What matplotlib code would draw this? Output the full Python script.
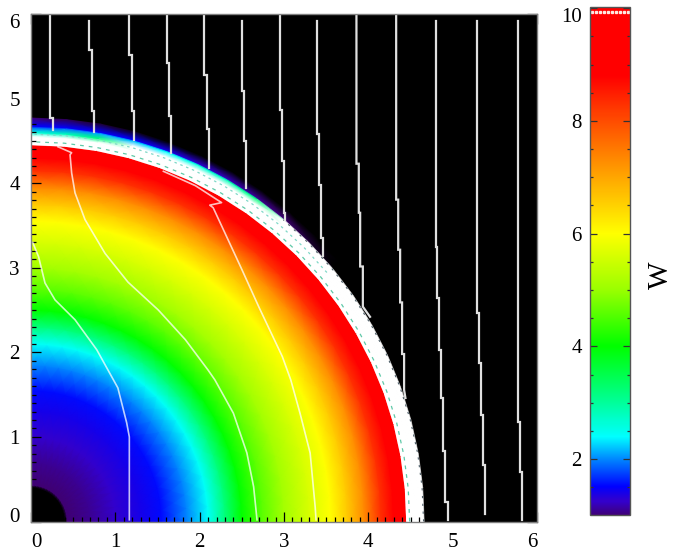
import numpy as np
import matplotlib
matplotlib.use('Agg')
import matplotlib.pyplot as plt
from matplotlib.colors import LinearSegmentedColormap, Normalize

# --- field values ---
W_MIN, W_MAX = 0.8, 10.0
ANGLES_DEG = list(range(0, 95, 5))

# radial profile inside the shell (same at every angle)
RADII = [0, 0.40, 0.43, 0.7, 1.0, 1.3, 1.55, 1.85, 2.1, 2.3, 2.5, 2.75, 3.0, 3.3, 3.55,
         3.75, 3.95, 4.15, 4.3, 4.45, 4.455, 4.55]
W_PROFILE = [0.8, 0.8, 1.0, 1.1, 1.25, 1.4, 1.55, 2.0, 2.45, 3.2, 4.0, 4.6, 5.1, 5.6, 6.0,
             6.6, 7.3, 8.3, 8.8, 9.9, 10.5, 10.5]

# outer rim, changes with angle (0 to 90 deg in 5 deg steps)
RIM_RADII = [4.60, 4.66, 4.675, 4.77]
W_RIM_460 = [10.5] * 16 + [3.2, 2.8, 2.6]
W_RIM_466 = [10.5] * 11 + [3.2, 2.8, 2.6, 2.4, 2.2, 2.1, 1.9, 1.8]
W_RIM_4675 = [0.8] * 9 + [0.9, 1.0, 1.1, 1.2, 1.3, 1.4, 1.5, 1.5, 1.5, 1.5]
W_RIM_477 = [0.8] * 15 + [0.85, 0.9, 0.95, 1.0]

# colour bar stops
CMAP_VALUES = [0.8, 1.0, 1.25, 1.5, 2.0, 2.4, 3.0, 4.0, 5.0, 6.0, 7.0, 8.0, 8.8, 10.0]
CMAP_COLORS = ['#000000', '#400073', '#3300cc', '#0000ff', '#0088ff', '#00ffff', '#00ff99',
               '#00ff00', '#99ff00', '#ffff00', '#ffa600', '#ff4d00', '#ff0000', '#ff0000']

# white contour lines, (x, y) in data units
LINES_OUTER = [
    ([0.225, 0.225, 0.257, 0.257], [5.99, 4.775, 4.775, 4.63]),
    ([0.692, 0.692, 0.724, 0.724, 0.751, 0.751], [5.915, 5.58, 5.58, 4.85, 4.85, 4.61]),
    ([1.166, 1.166, 1.194, 1.194, 1.218, 1.218], [5.99, 5.52, 5.52, 4.858, 4.858, 4.515]),
    ([1.613, 1.613, 1.637, 1.637, 1.664, 1.664], [5.99, 5.42, 5.42, 4.79, 4.79, 4.36]),
    ([2.056, 2.056, 2.084, 2.084, 2.108, 2.108], [5.99, 5.28, 5.28, 4.645, 4.645, 4.18]),
    ([2.503, 2.503, 2.527, 2.527, 2.55, 2.55], [5.915, 5.09, 5.09, 4.495, 4.495, 3.947]),
    ([2.954, 2.954, 2.977, 2.977, 3.0, 3.0, 3.015, 3.015], [5.99, 4.86, 4.86, 4.26, 4.26, 3.65, 3.65, 3.57]),
    ([3.389, 3.389, 3.416, 3.416, 3.44, 3.44, 3.467, 3.467],
     [5.915, 4.585, 4.585, 3.98, 3.98, 3.355, 3.355, 3.134]),
    ([3.859, 3.859, 3.887, 3.887, 3.903, 3.903, 3.935, 3.935, 4.02],
     [5.99, 4.23, 4.23, 3.65, 3.65, 3.015, 3.015, 2.54, 2.42]),
    ([4.33, 4.33, 4.354, 4.354, 4.377, 4.377, 4.40, 4.40, 4.424, 4.424, 4.44],
     [5.99, 3.805, 3.805, 3.213, 3.213, 2.59, 2.59, 1.98, 1.98, 1.556, 1.46]),
    ([4.797, 4.797, 4.82, 4.82, 4.843, 4.843, 4.867, 4.867, 4.89, 4.89, 4.915, 4.915, 4.94, 4.94],
     [5.915, 3.25, 3.25, 2.645, 2.645, 2.03, 2.03, 1.46, 1.46, 0.838, 0.838, 0.234, 0.234, 0.02]),
    ([5.287, 5.287, 5.314, 5.314, 5.338, 5.338, 5.358, 5.358, 5.386, 5.386],
     [5.915, 2.467, 2.467, 1.875, 1.875, 1.26, 1.26, 0.669, 0.669, 0.09]),
    ([5.78, 5.78, 5.80, 5.80, 5.828, 5.828], [5.915, 1.18, 1.18, 0.585, 0.585, 0.02]),
]
LINE_A_X = [0.02, 0.09, 0.166, 0.285, 0.522, 0.78, 1.03, 1.135, 1.166, 1.166]
LINE_A_Y = [3.3, 3.13, 2.82, 2.62, 2.385, 2.03, 1.58, 1.165, 1.0, 0.02]
LINE_B_X = [0.32, 0.482, 0.463, 0.482, 0.522, 0.64, 0.878, 1.15, 1.51, 1.83, 2.10, 2.18, 2.40, 2.56, 2.64, 2.68]
LINE_B_Y = [4.43, 4.36, 4.336, 4.12, 3.885, 3.57, 3.17, 2.83, 2.50, 2.15, 1.79, 1.675, 1.28, 0.81, 0.41, 0.02]
LINE_C_X = [1.57, 1.95, 2.26, 2.12, 2.16, 2.30, 2.50, 2.70, 2.98, 3.08, 3.19, 3.31, 3.37, 3.38]
LINE_C_Y = [4.14, 3.97, 3.77, 3.74, 3.71, 3.41, 2.98, 2.54, 1.95, 1.675, 1.28, 0.81, 0.17, 0.02]

# --- colormap ---
stops = [(v - W_MIN) / (W_MAX - W_MIN) for v in CMAP_VALUES]
cmap = LinearSegmentedColormap.from_list('w_rainbow', list(zip(stops, CMAP_COLORS)), N=512)
cmap.set_over('white')
cmap.set_under('black')
norm = Normalize(W_MIN, W_MAX)

plt.rcParams['font.family'] = ['Liberation Serif', 'DejaVu Serif']

fig = plt.figure(figsize=(6.73, 5.59), dpi=100)
ax = fig.add_axes([31 / 673, 37.5 / 559, 506 / 673, 507.5 / 559], facecolor='black')
cax = fig.add_axes([590 / 673, 44 / 559, 40 / 673, 508 / 559])

# --- field on a polar mesh ---
theta = np.deg2rad(ANGLES_DEG)
radii = np.array(RADII + RIM_RADII)
inner = np.tile(W_PROFILE, (len(ANGLES_DEG), 1))
rim = np.array([W_RIM_460, W_RIM_466, W_RIM_4675, W_RIM_477]).T
field = np.hstack([inner, rim])
xx = np.outer(np.cos(theta), radii)
yy = np.outer(np.sin(theta), radii)
mesh = ax.pcolormesh(xx, yy, field, cmap=cmap, norm=norm, shading='gouraud')

# dashes in the shell
ax.plot(4.49 * np.cos(theta), 4.49 * np.sin(theta), color='#5fc9a8', lw=0.9, ls=(0, (3, 4)))
ax.plot(4.58 * np.cos(theta[8:]), 4.58 * np.sin(theta[8:]), color='#7fd8c8', lw=0.9, ls=(0, (2, 3)))
ax.plot(4.655 * np.cos(theta[:11]), 4.655 * np.sin(theta[:11]), color='#50606a', lw=0.8, ls=(0, (2, 5)))

# --- contours ---
for x_line, y_line in LINES_OUTER:
    ax.plot(x_line, y_line, color='#e0e0e0', lw=1.6, solid_joinstyle='miter')
for x_line, y_line in [(LINE_A_X, LINE_A_Y), (LINE_B_X, LINE_B_Y), (LINE_C_X, LINE_C_Y)]:
    ax.plot(x_line, y_line, color='white', lw=1.2, alpha=0.75)

ax.set_xlim(0, 6)
ax.set_ylim(0, 6)
ax.set_xticks(range(7))
ax.set_yticks(range(7))
ax.set_xticks(np.arange(0, 6.01, 0.1), minor=True)
ax.set_yticks(np.arange(0, 6.01, 0.1), minor=True)
ax.tick_params(which='major', direction='in', length=7.5, width=0.9, color='black',
               top=True, right=True, labelsize=15, pad=8)
ax.tick_params(which='minor', direction='in', length=3.6, width=0.9, color='black', top=True, right=True)
xlabels = ax.get_xticklabels()
xlabels[0].set_ha('left')
xlabels[-1].set_ha('right')
ylabels = ax.get_yticklabels()
ylabels[0].set_va('baseline')
ylabels[-1].set_va('top')
for s in ax.spines.values():
    s.set_color('#808080')
    s.set_linewidth(1.0)

# --- colour bar ---
cbar = fig.colorbar(mesh, cax=cax, extend='neither')
cax.set_ylim(1.01, 10.02)
cbar.set_ticks([2, 4, 6, 8, 10])
cax.yaxis.set_ticks(np.arange(1.5, 10, 0.5), minor=True)
cax.yaxis.set_ticks_position('both')
cax.yaxis.set_label_position('right')
cax.tick_params(which='major', direction='in', length=5, width=0.9, color='#333333',
                left=True, right=True, labelleft=True, labelright=False, labelsize=15, pad=6)
cax.tick_params(which='minor', direction='in', length=2.5, width=0.9, color='#333333', left=True, right=True)
cax.get_yticklabels()[-1].set_va('top')
cax.plot(np.arange(0.05, 1, 0.1), [9.94] * 10, transform=cax.get_yaxis_transform(), ls='none',
         marker='s', ms=1.4, color='#ffe8e0')
for s in cax.spines.values():
    s.set_color('#555555')
    s.set_linewidth(1.0)
cbar.outline.set_edgecolor('#555555')
fig.text(661 / 673, 1 - 275 / 559, 'W', rotation=90, fontsize=21, ha='center', va='center')

fig.savefig('out.png', dpi=100)
